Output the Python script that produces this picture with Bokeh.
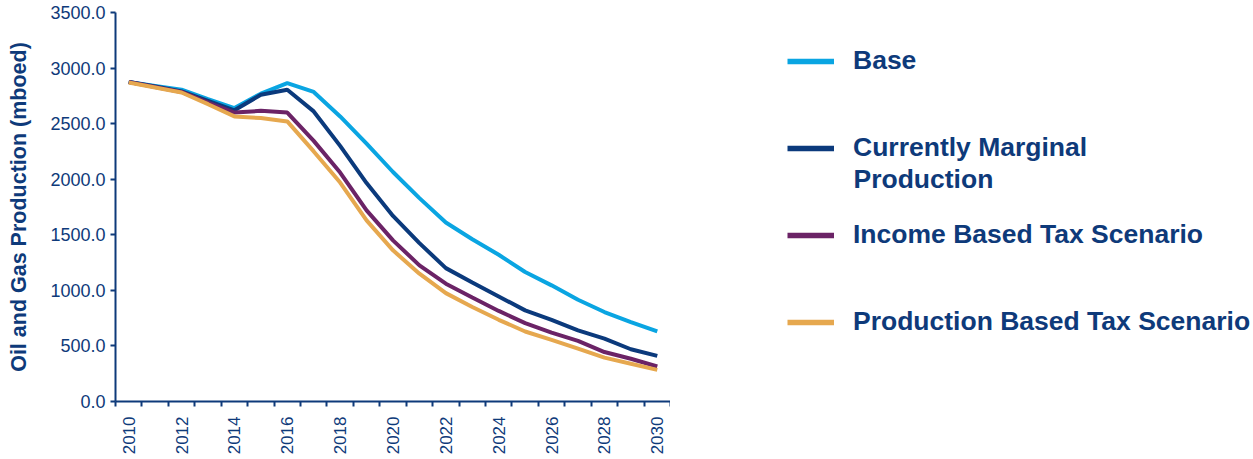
from bokeh.plotting import figure
from bokeh.layouts import row
from bokeh.models import (Range1d, FixedTicker, NumeralTickFormatter, Legend, LegendItem, Label)
from bokeh.embed import file_html
from bokeh.resources import INLINE

years = list(range(2010, 2031))
base = [2875, 2840, 2805, 2720, 2640, 2770, 2865, 2785, 2565, 2320, 2065, 1830, 1610, 1460, 1320, 1165, 1045, 915, 805, 715, 630]
marginal = [2875, 2835, 2790, 2705, 2620, 2760, 2805, 2610, 2300, 1965, 1670, 1425, 1200, 1070, 945, 820, 735, 640, 565, 470, 410]
income = [2875, 2830, 2785, 2690, 2600, 2615, 2600, 2345, 2060, 1720, 1450, 1225, 1060, 935, 815, 705, 620, 545, 445, 385, 315]
production = [2870, 2825, 2780, 2675, 2565, 2550, 2520, 2250, 1970, 1630, 1360, 1150, 975, 850, 735, 630, 555, 475, 395, 340, 285]

series_names = ["Base", "Currently Marginal", "Income Based Tax Scenario", "Production Based Tax Scenario"]
second_line = "Production"
series_colors = ["#0AA5E2", "#0B3A7C", "#6B2366", "#E6A84F"]
y_ticks = [0, 500, 1000, 1500, 2000, 2500, 3000, 3500]
x_label_years = list(range(2010, 2031, 2))

NAVY = "#0E3A7A"
FONT = "Liberation Sans"
series = [base, marginal, income, production]

p = figure(width=670, height=459, output_backend="svg", toolbar_location=None,
           x_range=Range1d(2009.5, 2030.5), y_range=Range1d(0, 3500),
           min_border_left=115, min_border_right=0, min_border_top=12, min_border_bottom=58)
p.outline_line_color = None
p.xgrid.visible = False
p.ygrid.visible = False
p.background_fill_color = "white"
p.border_fill_color = "white"

for vals, c in zip(series, series_colors):
    p.line(years, vals, line_color=c, line_width=4)

# y axis
ya = p.yaxis[0]
ya.ticker = FixedTicker(ticks=y_ticks)
ya.formatter = NumeralTickFormatter(format="0.0")
ya.axis_line_color = NAVY
ya.axis_line_width = 2
ya.major_tick_line_color = NAVY
ya.major_tick_line_width = 2
ya.major_tick_out = 5
ya.major_tick_in = 0
ya.minor_tick_line_color = None
ya.major_label_text_font = FONT
ya.major_label_text_font_size = "18px"
ya.major_label_text_color = NAVY
ya.major_label_standoff = 5
ya.axis_label = "Oil and Gas Production (mboed)"
ya.axis_label_text_font = FONT
ya.axis_label_text_font_size = "21.5px"
ya.axis_label_text_font_style = "bold"
ya.axis_label_text_color = NAVY
ya.axis_label_standoff = 16

# x axis
xa = p.xaxis[0]
xa.ticker = FixedTicker(ticks=x_label_years, minor_ticks=[y - 0.5 for y in years] + [2030.5])
xa.major_label_overrides = {y: str(y) for y in x_label_years}
xa.major_label_orientation = 3.14159265 / 2
xa.axis_line_color = NAVY
xa.axis_line_width = 2
xa.major_tick_out = 0
xa.major_tick_in = 0
xa.major_tick_line_color = None
xa.minor_tick_line_color = NAVY
xa.minor_tick_line_width = 2
xa.minor_tick_out = 5
xa.minor_tick_in = 0
xa.major_label_text_font = FONT
xa.major_label_text_font_size = "17px"
xa.major_label_text_color = NAVY
xa.major_label_standoff = 10

# legend panel (its lines are the same series, kept outside its visible range)
q = figure(width=583, height=459, output_backend="svg", toolbar_location=None,
           x_range=Range1d(0, 1), y_range=Range1d(0, 1),
           x_axis_location=None, y_axis_location=None,
           min_border_left=0, min_border_right=0, min_border_top=12, min_border_bottom=58)
q.outline_line_color = None
q.xgrid.visible = False
q.ygrid.visible = False
q.background_fill_color = "white"
q.border_fill_color = "white"

leg_renderers = [q.line(years, vals, line_color=c, line_width=5.5) for vals, c in zip(series, series_colors)]

legend = Legend(items=[LegendItem(label=n, renderers=[r]) for n, r in zip(series_names, leg_renderers)],
                location=(117, 64), orientation="vertical",
                border_line_color=None, background_fill_alpha=0,
                padding=0, margin=0, spacing=56,
                glyph_width=47, glyph_height=30, label_height=30,
                label_standoff=19,
                label_text_font=FONT, label_text_font_size="26.5px",
                label_text_font_style="bold", label_text_color=NAVY)
q.add_layout(legend, "center")

q.add_layout(Label(x=183, y=223, x_units="screen", y_units="screen", text=second_line,
                   text_font=FONT, text_font_size="26.5px", text_font_style="bold",
                   text_color=NAVY, text_baseline="middle", text_align="left"))

layout = row(p, q, spacing=0)
open("out.html", "w").write(file_html(layout, INLINE))
